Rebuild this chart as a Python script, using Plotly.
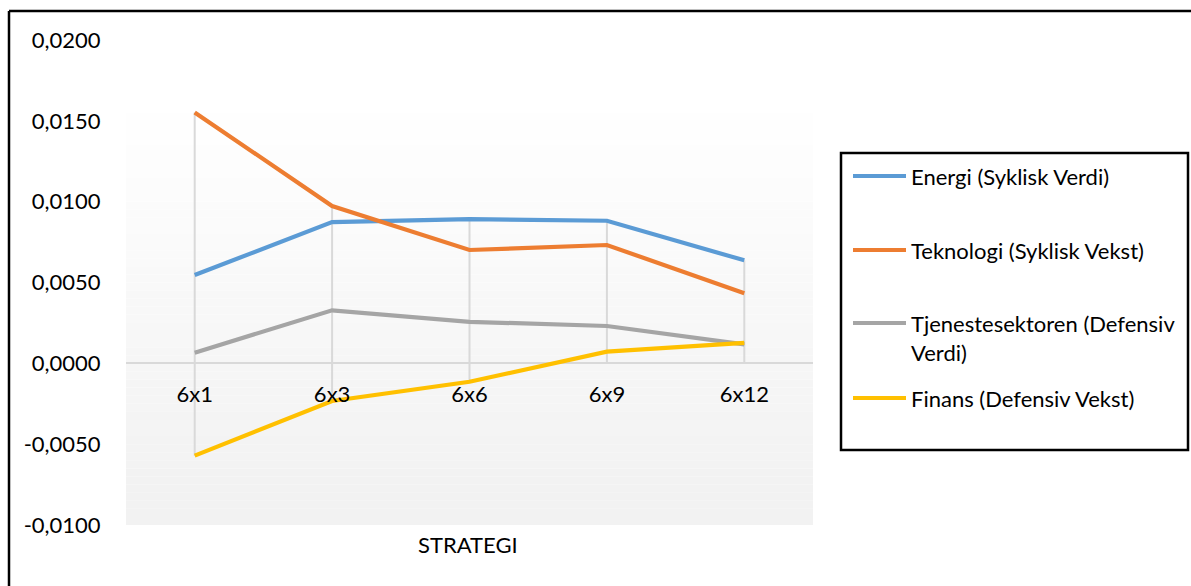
import plotly.graph_objects as go

# ---- data ----
categories = ["6x1", "6x3", "6x6", "6x9", "6x12"]
energi = [0.00546, 0.00874, 0.00892, 0.00882, 0.00637]
teknologi = [0.01552, 0.00973, 0.00701, 0.00732, 0.00433]
tjeneste = [0.00066, 0.00328, 0.00257, 0.00231, 0.00117]
finans = [-0.00571, -0.00233, -0.00114, 0.00072, 0.00127]

series_names = [
    "Energi (Syklisk Verdi)",
    "Teknologi (Syklisk Vekst)",
    "Tjenestesektoren (Defensiv<br>Verdi)",
    "Finans (Defensiv Vekst)",
]
series_values = [energi, teknologi, tjeneste, finans]
series_colors = ["#5B9BD5", "#ED7D31", "#A5A5A5", "#FFC000"]

y_ticks = [-0.01, -0.005, 0.0, 0.005, 0.01, 0.015, 0.02]
y_tick_labels = ["-0,0100", "-0,0050", "0,0000", "0,0050", "0,0100", "0,0150", "0,0200"]
x_title = "STRATEGI"

FONT = "Lato"
FS = 22

# figure geometry (pixels)
W, H = 1191, 586
ML, MR, MT, MB = 126, 378, 40, 61
PW = W - ML - MR
PH = H - MT - MB


def px_x(px):
    return (px - ML) / PW


def px_y(py):
    return (H - MB - py) / PH


fig = go.Figure()

# drop lines (from each point to the category axis)
dx, dy = [], []
for i, c in enumerate(categories):
    vals = [s[i] for s in series_values]
    dx += [c, c, None]
    dy += [min(0.0, min(vals)), max(0.0, max(vals)), None]
fig.add_trace(go.Scatter(x=dx, y=dy, mode="lines",
                         line=dict(color="#D9D9D9", width=2),
                         showlegend=False, hoverinfo="skip"))

for name, vals, col in zip(series_names, series_values, series_colors):
    fig.add_trace(go.Scatter(x=categories, y=vals, mode="lines", name=name,
                             line=dict(color=col, width=4.2),
                             showlegend=False))

shapes = []
# plot-area gradient background (white at top -> #f2f2f2 at bottom)
ymin, ymax = -0.01, 0.02
top_white, bot_gray = 0.0162, -0.0074
n = 60
for k in range(n):
    a = ymin + (ymax - ymin) * k / n
    b = ymin + (ymax - ymin) * (k + 1) / n
    mid = (a + b) / 2
    t = (top_white - mid) / (top_white - bot_gray)
    t = max(0.0, min(1.0, t))
    g = round(255 - 13 * t)
    shapes.append(dict(type="rect", xref="paper", yref="y", x0=0, x1=1,
                       y0=a, y1=b, fillcolor=f"rgb({g},{g},{g})",
                       line=dict(width=0), layer="below"))

# outer chart border (top & left visible)
shapes.append(dict(type="line", xref="paper", yref="paper",
                   x0=px_x(9), x1=px_x(1200), y0=px_y(11), y1=px_y(11),
                   line=dict(color="black", width=2.5)))
shapes.append(dict(type="line", xref="paper", yref="paper",
                   x0=px_x(9), x1=px_x(9), y0=px_y(11), y1=px_y(600),
                   line=dict(color="black", width=2.5)))

# legend box
shapes.append(dict(type="rect", xref="paper", yref="paper",
                   x0=px_x(841), x1=px_x(1188), y0=px_y(450), y1=px_y(153),
                   line=dict(color="black", width=2.5), fillcolor="white"))

annotations = []
legend_y = [176, 250, 323, 398]
line_h = 30
for name, col, ly in zip(series_names, series_colors, legend_y):
    shapes.append(dict(type="line", xref="paper", yref="paper",
                       x0=px_x(853), x1=px_x(906), y0=px_y(ly), y1=px_y(ly),
                       line=dict(color=col, width=4.2)))
    nlines = name.count("<br>") + 1
    cy = ly + (nlines - 1) * line_h / 2
    annotations.append(dict(text=name, xref="paper", yref="paper",
                            x=px_x(909), y=px_y(cy), xanchor="left",
                            yanchor="middle", align="left", showarrow=False,
                            font=dict(family=FONT, size=FS, color="black")))

annotations.append(dict(text=x_title, xref="paper", yref="paper",
                        x=px_x(468), y=px_y(544), xanchor="center",
                        yanchor="middle", showarrow=False,
                        font=dict(family=FONT, size=FS, color="black")))

fig.update_layout(
    width=W, height=H, autosize=False,
    margin=dict(l=ML, r=MR, t=MT, b=MB, pad=0),
    paper_bgcolor="white", plot_bgcolor="rgba(0,0,0,0)",
    separators=", ",
    font=dict(family=FONT, size=FS, color="black"),
    showlegend=False,
    shapes=shapes,
    annotations=annotations,
    xaxis=dict(type="category", categoryorder="array", categoryarray=categories,
               range=[-0.5, len(categories) - 0.5],
               anchor="free", position=(0 - ymin) / (ymax - ymin),
               showgrid=False, showline=False, zeroline=False,
               ticks="outside", ticklen=11, tickcolor="rgba(0,0,0,0)",
               tickfont=dict(family=FONT, size=FS, color="black")),
    yaxis=dict(range=[ymin, ymax], tickvals=y_ticks, ticktext=y_tick_labels,
               showgrid=False, showline=False,
               zeroline=True, zerolinecolor="#D9D9D9", zerolinewidth=2,
               ticks="outside", ticklen=20, tickcolor="rgba(0,0,0,0)",
               tickfont=dict(family=FONT, size=FS, color="black")),
)

fig.write_html("out.html")
